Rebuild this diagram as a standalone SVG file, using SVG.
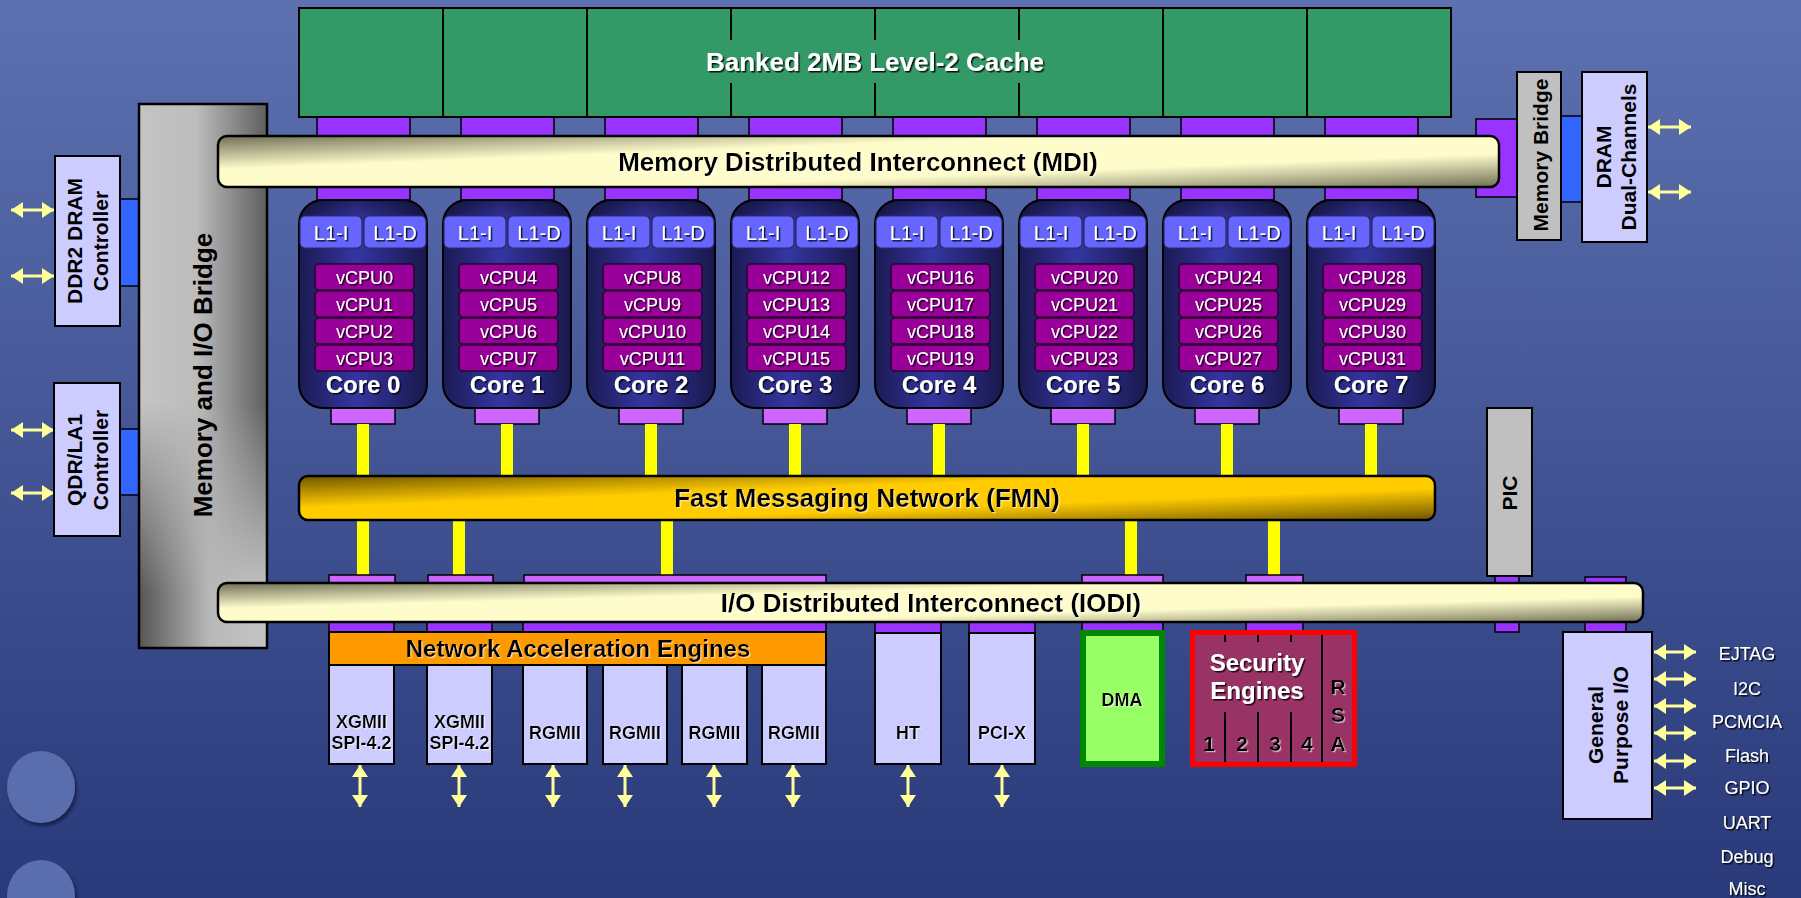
<svg xmlns="http://www.w3.org/2000/svg" width="1801" height="898" viewBox="0 0 1801 898">
  <defs>
    <linearGradient id="bg" x1="0" y1="0" x2="0" y2="1">
      <stop offset="0" stop-color="#5d71b0"/>
      <stop offset="1" stop-color="#29397a"/>
    </linearGradient>
    <!-- diagonal sheen used by the three interconnect bars -->
    <linearGradient id="busCream" x1="0" y1="0" x2="1" y2="1">
      <stop offset="0" stop-color="#6f6f55"/>
      <stop offset="0.33" stop-color="#fffccc"/>
      <stop offset="0.67" stop-color="#fffccc"/>
      <stop offset="1" stop-color="#6f6f55"/>
    </linearGradient>
    <linearGradient id="busGold" x1="0" y1="0" x2="1" y2="1">
      <stop offset="0" stop-color="#6e5400"/>
      <stop offset="0.36" stop-color="#ffcc00"/>
      <stop offset="0.64" stop-color="#ffcc00"/>
      <stop offset="1" stop-color="#6e5400"/>
    </linearGradient>
    <linearGradient id="coreFill" x1="0" y1="0" x2="1" y2="0">
      <stop offset="0" stop-color="#1a1a52"/>
      <stop offset="0.45" stop-color="#3535a2"/>
      <stop offset="1" stop-color="#18184c"/>
    </linearGradient>
    <linearGradient id="coreTop" x1="0" y1="0" x2="0" y2="1">
      <stop offset="0" stop-color="#000" stop-opacity="0.35"/>
      <stop offset="0.1" stop-color="#000" stop-opacity="0"/>
      <stop offset="1" stop-color="#000" stop-opacity="0"/>
    </linearGradient>
    <linearGradient id="grayA" x1="0" y1="0" x2="1" y2="0">
      <stop offset="0" stop-color="#c4c4c4"/>
      <stop offset="0.45" stop-color="#bcbcbc"/>
      <stop offset="1" stop-color="#5e5e5e"/>
    </linearGradient>
    <linearGradient id="grayB" x1="0" y1="0" x2="1" y2="0">
      <stop offset="0" stop-color="#555555"/>
      <stop offset="0.55" stop-color="#b8b8b8"/>
      <stop offset="1" stop-color="#c4c4c4"/>
    </linearGradient>
    <linearGradient id="fadeDown" x1="0" y1="0" x2="0" y2="1">
      <stop offset="0.55" stop-color="#fff" stop-opacity="0"/>
      <stop offset="0.9" stop-color="#fff" stop-opacity="1"/>
    </linearGradient>
    <mask id="lowerHalf" maskContentUnits="objectBoundingBox">
      <rect x="0" y="0" width="1" height="1" fill="url(#fadeDown)"/>
    </mask>
    <filter id="shDark" x="-10%" y="-30%" width="130%" height="180%">
      <feDropShadow dx="1.5" dy="1.5" stdDeviation="0.4" flood-color="#000" flood-opacity="0.85"/>
    </filter>
    <filter id="shLight" x="-10%" y="-30%" width="130%" height="180%">
      <feDropShadow dx="1.2" dy="1.2" stdDeviation="0.4" flood-color="#fff" flood-opacity="0.6"/>
    </filter>
    <filter id="dotShadow" x="-30%" y="-30%" width="160%" height="160%">
      <feDropShadow dx="2" dy="3" stdDeviation="1.5" flood-color="#101a40" flood-opacity="0.8"/>
    </filter>
    <marker id="head" viewBox="0 0 12 16" refX="12" refY="8" markerWidth="12" markerHeight="16" markerUnits="userSpaceOnUse" orient="auto-start-reverse">
      <path d="M0,0 L12,8 L0,16 z" fill="#ffff99"/>
    </marker>
    <style>
      text { font-family: "Liberation Sans", Arial, sans-serif; }
      .box { stroke: #000; stroke-width: 2; }
      .lav { fill: #ccccff; }
      .grey { fill: #c0c0c0; }
      .blue { fill: #3366ff; stroke: #000; stroke-width: 1.5; }
      .tabD { fill: #9933ff; stroke: #000; stroke-width: 1.5; }
      .tabL { fill: #cc66ff; stroke: #000; stroke-width: 1.5; }
      .wire { stroke: #ffff00; stroke-width: 12; }
      .arrow { stroke: #ffff99; stroke-width: 3; marker-start: url(#head); marker-end: url(#head); }
      .bus { stroke: #000; stroke-width: 2.5; }
      .busT { font-size: 26px; font-weight: bold; fill: #000; text-anchor: middle; filter: url(#shLight); }
      .lbl { font-size: 21px; font-weight: bold; fill: #000; text-anchor: middle; }
      .lblBig { font-size: 26px; font-weight: bold; fill: #000; text-anchor: middle; }
      .io { font-size: 18px; font-weight: bold; fill: #000; text-anchor: middle; filter: url(#shLight); }
      .nae { font-size: 24px; font-weight: bold; fill: #000; text-anchor: middle; filter: url(#shLight); }
      .core { fill: url(#coreFill); stroke: #000; stroke-width: 2; }
      .l1 { fill: #6666ff; stroke: #2a2a70; stroke-width: 1.2; }
      .l1T { font-size: 20px; fill: #fff; text-anchor: middle; filter: url(#shDark); }
      .vcpu { fill: #990099; stroke: #2a0030; stroke-width: 1.5; }
      .vcpuT { font-size: 18px; fill: #fff; text-anchor: middle; filter: url(#shDark); }
      .coreT { font-size: 24px; font-weight: bold; fill: #fff; text-anchor: middle; filter: url(#shDark); }
      .cacheT { font-size: 26px; font-weight: bold; fill: #fff; text-anchor: middle; filter: url(#shDark); }
      .sig { font-size: 18px; fill: #fff; text-anchor: middle; filter: url(#shDark); }
      .secT { font-size: 24px; font-weight: bold; fill: #fff; text-anchor: middle; filter: url(#shDark); }
      .secN { font-size: 21px; font-weight: bold; fill: #000; text-anchor: middle; filter: url(#shLight); }
      .div { stroke: #000; stroke-width: 2; }
    </style>
  </defs>

  <!-- backdrop -->
  <rect x="0" y="0" width="1801" height="898" fill="url(#bg)"/>
  <ellipse cx="41" cy="787" rx="34" ry="36" fill="#5a6dad" filter="url(#dotShadow)"/>
  <ellipse cx="41" cy="896" rx="34" ry="36" fill="#5a6dad" filter="url(#dotShadow)"/>

  <!-- connectors: bus taps, message-network links, external pins -->
  <g id="connectors">
    <!-- MDI taps above and below the bus, one pair per core -->
    <rect class="tabD" x="317" y="117" width="93" height="19"/>
    <rect class="tabD" x="461" y="117" width="93" height="19"/>
    <rect class="tabD" x="605" y="117" width="93" height="19"/>
    <rect class="tabD" x="749" y="117" width="93" height="19"/>
    <rect class="tabD" x="893" y="117" width="93" height="19"/>
    <rect class="tabD" x="1037" y="117" width="93" height="19"/>
    <rect class="tabD" x="1181" y="117" width="93" height="19"/>
    <rect class="tabD" x="1325" y="117" width="93" height="19"/>
    <rect class="tabD" x="317" y="186" width="93" height="14"/>
    <rect class="tabD" x="461" y="186" width="93" height="14"/>
    <rect class="tabD" x="605" y="186" width="93" height="14"/>
    <rect class="tabD" x="749" y="186" width="93" height="14"/>
    <rect class="tabD" x="893" y="186" width="93" height="14"/>
    <rect class="tabD" x="1037" y="186" width="93" height="14"/>
    <rect class="tabD" x="1181" y="186" width="93" height="14"/>
    <rect class="tabD" x="1325" y="186" width="93" height="14"/>
    <rect class="tabD" x="1476" y="119" width="41" height="78"/>

    <!-- controller links to the bridges -->
    <rect class="blue" x="120" y="199" width="19" height="87"/>
    <rect class="blue" x="120" y="429" width="19" height="66"/>
    <rect class="blue" x="1561" y="116" width="21" height="86"/>

    <!-- core ports and FMN links -->
    <rect class="tabL" x="331" y="408" width="64" height="16"/>
    <rect class="tabL" x="475" y="408" width="64" height="16"/>
    <rect class="tabL" x="619" y="408" width="64" height="16"/>
    <rect class="tabL" x="763" y="408" width="64" height="16"/>
    <rect class="tabL" x="907" y="408" width="64" height="16"/>
    <rect class="tabL" x="1051" y="408" width="64" height="16"/>
    <rect class="tabL" x="1195" y="408" width="64" height="16"/>
    <rect class="tabL" x="1339" y="408" width="64" height="16"/>
    <line class="wire" x1="363" y1="424" x2="363" y2="476"/>
    <line class="wire" x1="507" y1="424" x2="507" y2="476"/>
    <line class="wire" x1="651" y1="424" x2="651" y2="476"/>
    <line class="wire" x1="795" y1="424" x2="795" y2="476"/>
    <line class="wire" x1="939" y1="424" x2="939" y2="476"/>
    <line class="wire" x1="1083" y1="424" x2="1083" y2="476"/>
    <line class="wire" x1="1227" y1="424" x2="1227" y2="476"/>
    <line class="wire" x1="1371" y1="424" x2="1371" y2="476"/>
    <line class="wire" x1="363" y1="520" x2="363" y2="575"/>
    <line class="wire" x1="459" y1="520" x2="459" y2="575"/>
    <line class="wire" x1="667" y1="520" x2="667" y2="575"/>
    <line class="wire" x1="1131" y1="520" x2="1131" y2="575"/>
    <line class="wire" x1="1274" y1="520" x2="1274" y2="575"/>

    <!-- IODI taps -->
    <rect class="tabL" x="329" y="575" width="66" height="9"/>
    <rect class="tabL" x="428" y="575" width="65" height="9"/>
    <rect class="tabL" x="524" y="575" width="302" height="9"/>
    <rect class="tabL" x="1082" y="575" width="81" height="9"/>
    <rect class="tabL" x="1246" y="575" width="57" height="9"/>
    <rect class="tabD" x="1495" y="576" width="24" height="8"/>
    <rect class="tabD" x="1585" y="577" width="41" height="7"/>
    <rect class="tabD" x="329" y="621" width="65" height="11"/>
    <rect class="tabD" x="427" y="621" width="65" height="11"/>
    <rect class="tabD" x="523" y="621" width="303" height="11"/>
    <rect class="tabD" x="875" y="621" width="66" height="12"/>
    <rect class="tabD" x="969" y="621" width="66" height="12"/>
    <rect class="tabD" x="1082" y="621" width="81" height="10"/>
    <rect class="tabD" x="1246" y="621" width="57" height="10"/>
    <rect class="tabD" x="1495" y="621" width="24" height="11"/>
    <rect class="tabD" x="1585" y="621" width="41" height="11"/>

    <!-- external pins -->
    <line class="arrow" x1="11" y1="210" x2="54" y2="210"/>
    <line class="arrow" x1="11" y1="276" x2="54" y2="276"/>
    <line class="arrow" x1="11" y1="430" x2="54" y2="430"/>
    <line class="arrow" x1="11" y1="493" x2="54" y2="493"/>
    <line class="arrow" x1="1648" y1="127" x2="1691" y2="127"/>
    <line class="arrow" x1="1648" y1="192" x2="1691" y2="192"/>
    <line class="arrow" x1="1654" y1="652" x2="1696" y2="652"/>
    <line class="arrow" x1="1654" y1="679" x2="1696" y2="679"/>
    <line class="arrow" x1="1654" y1="706" x2="1696" y2="706"/>
    <line class="arrow" x1="1654" y1="733" x2="1696" y2="733"/>
    <line class="arrow" x1="1654" y1="761" x2="1696" y2="761"/>
    <line class="arrow" x1="1654" y1="788" x2="1696" y2="788"/>
    <line class="arrow" x1="360" y1="765" x2="360" y2="807"/>
    <line class="arrow" x1="459" y1="765" x2="459" y2="807"/>
    <line class="arrow" x1="553" y1="765" x2="553" y2="807"/>
    <line class="arrow" x1="625" y1="765" x2="625" y2="807"/>
    <line class="arrow" x1="714" y1="765" x2="714" y2="807"/>
    <line class="arrow" x1="793" y1="765" x2="793" y2="807"/>
    <line class="arrow" x1="908" y1="765" x2="908" y2="807"/>
    <line class="arrow" x1="1002" y1="765" x2="1002" y2="807"/>
  </g>

  <!-- shared L2 cache, eight banks -->
  <g id="l2-cache">
    <rect class="box" x="299" y="8" width="144" height="109" fill="#339966"/>
    <rect class="box" x="443" y="8" width="144" height="109" fill="#339966"/>
    <rect class="box" x="587" y="8" width="144" height="109" fill="#339966"/>
    <rect class="box" x="731" y="8" width="144" height="109" fill="#339966"/>
    <rect class="box" x="875" y="8" width="144" height="109" fill="#339966"/>
    <rect class="box" x="1019" y="8" width="144" height="109" fill="#339966"/>
    <rect class="box" x="1163" y="8" width="144" height="109" fill="#339966"/>
    <rect class="box" x="1307" y="8" width="144" height="109" fill="#339966"/>
    <rect x="703" y="40" width="344" height="43" fill="#339966"/>
    <text class="cacheT" x="875" y="71">Banked 2MB Level-2 Cache</text>
  </g>

  <g id="mem-io-bridge">
    <rect x="139" y="104" width="128" height="544" fill="url(#grayA)"/>
    <rect x="139" y="104" width="128" height="544" fill="url(#grayB)" mask="url(#lowerHalf)"/>
    <rect x="139" y="104" width="128" height="544" fill="none" stroke="#000" stroke-width="2.5"/>
    <text class="lblBig" transform="translate(0,375) rotate(-90)" x="0" y="212">Memory and I/O Bridge</text>
  </g>

  <g id="ddr2-controller">
    <rect class="box lav" x="55" y="156" width="65" height="170"/>
    <text class="lbl" transform="translate(0,241) rotate(-90)"><tspan x="0" y="82">DDR2 DRAM</tspan><tspan x="0" y="108">Controller</tspan></text>
  </g>

  <g id="qdr-controller">
    <rect class="box lav" x="54" y="383" width="66" height="153"/>
    <text class="lbl" transform="translate(0,460) rotate(-90)"><tspan x="0" y="82">QDR/LA1</tspan><tspan x="0" y="108">Controller</tspan></text>
  </g>

  <g id="mdi">
    <rect class="bus" x="218" y="136" width="1281" height="51" rx="9" fill="url(#busCream)"/>
    <text class="busT" x="858" y="171">Memory Distributed Interconnect (MDI)</text>
  </g>

  <g id="memory-bridge">
    <rect class="box grey" x="1517" y="72" width="44" height="168"/>
    <text class="lbl" transform="translate(0,155) rotate(-90)" x="0" y="1548">Memory Bridge</text>
  </g>

  <g id="dram-channels">
    <rect class="box lav" x="1582" y="72" width="65" height="170"/>
    <text class="lbl" transform="translate(0,157) rotate(-90)"><tspan x="0" y="1611">DRAM</tspan><tspan x="0" y="1636">Dual-Channels</tspan></text>
  </g>

  <!-- eight cores, four threads each -->
  <g id="core0" transform="translate(299,0)">
    <rect class="core" x="0" y="200" width="128" height="208" rx="24"/>
    <rect x="0" y="200" width="128" height="208" rx="24" fill="url(#coreTop)"/>
    <rect class="l1" x="1" y="216" width="62" height="32" rx="5"/><text class="l1T" x="32" y="240">L1-I</text>
    <rect class="l1" x="65" y="216" width="62" height="32" rx="5"/><text class="l1T" x="96" y="240">L1-D</text>
    <rect class="vcpu" x="16" y="264" width="99" height="26" rx="4"/><text class="vcpuT" x="65.5" y="284">vCPU0</text>
    <rect class="vcpu" x="16" y="291" width="99" height="26" rx="4"/><text class="vcpuT" x="65.5" y="311">vCPU1</text>
    <rect class="vcpu" x="16" y="318" width="99" height="26" rx="4"/><text class="vcpuT" x="65.5" y="338">vCPU2</text>
    <rect class="vcpu" x="16" y="345" width="99" height="26" rx="4"/><text class="vcpuT" x="65.5" y="365">vCPU3</text>
    <text class="coreT" x="64" y="393">Core 0</text>
  </g>
  <g id="core1" transform="translate(443,0)">
    <rect class="core" x="0" y="200" width="128" height="208" rx="24"/>
    <rect x="0" y="200" width="128" height="208" rx="24" fill="url(#coreTop)"/>
    <rect class="l1" x="1" y="216" width="62" height="32" rx="5"/><text class="l1T" x="32" y="240">L1-I</text>
    <rect class="l1" x="65" y="216" width="62" height="32" rx="5"/><text class="l1T" x="96" y="240">L1-D</text>
    <rect class="vcpu" x="16" y="264" width="99" height="26" rx="4"/><text class="vcpuT" x="65.5" y="284">vCPU4</text>
    <rect class="vcpu" x="16" y="291" width="99" height="26" rx="4"/><text class="vcpuT" x="65.5" y="311">vCPU5</text>
    <rect class="vcpu" x="16" y="318" width="99" height="26" rx="4"/><text class="vcpuT" x="65.5" y="338">vCPU6</text>
    <rect class="vcpu" x="16" y="345" width="99" height="26" rx="4"/><text class="vcpuT" x="65.5" y="365">vCPU7</text>
    <text class="coreT" x="64" y="393">Core 1</text>
  </g>
  <g id="core2" transform="translate(587,0)">
    <rect class="core" x="0" y="200" width="128" height="208" rx="24"/>
    <rect x="0" y="200" width="128" height="208" rx="24" fill="url(#coreTop)"/>
    <rect class="l1" x="1" y="216" width="62" height="32" rx="5"/><text class="l1T" x="32" y="240">L1-I</text>
    <rect class="l1" x="65" y="216" width="62" height="32" rx="5"/><text class="l1T" x="96" y="240">L1-D</text>
    <rect class="vcpu" x="16" y="264" width="99" height="26" rx="4"/><text class="vcpuT" x="65.5" y="284">vCPU8</text>
    <rect class="vcpu" x="16" y="291" width="99" height="26" rx="4"/><text class="vcpuT" x="65.5" y="311">vCPU9</text>
    <rect class="vcpu" x="16" y="318" width="99" height="26" rx="4"/><text class="vcpuT" x="65.5" y="338">vCPU10</text>
    <rect class="vcpu" x="16" y="345" width="99" height="26" rx="4"/><text class="vcpuT" x="65.5" y="365">vCPU11</text>
    <text class="coreT" x="64" y="393">Core 2</text>
  </g>
  <g id="core3" transform="translate(731,0)">
    <rect class="core" x="0" y="200" width="128" height="208" rx="24"/>
    <rect x="0" y="200" width="128" height="208" rx="24" fill="url(#coreTop)"/>
    <rect class="l1" x="1" y="216" width="62" height="32" rx="5"/><text class="l1T" x="32" y="240">L1-I</text>
    <rect class="l1" x="65" y="216" width="62" height="32" rx="5"/><text class="l1T" x="96" y="240">L1-D</text>
    <rect class="vcpu" x="16" y="264" width="99" height="26" rx="4"/><text class="vcpuT" x="65.5" y="284">vCPU12</text>
    <rect class="vcpu" x="16" y="291" width="99" height="26" rx="4"/><text class="vcpuT" x="65.5" y="311">vCPU13</text>
    <rect class="vcpu" x="16" y="318" width="99" height="26" rx="4"/><text class="vcpuT" x="65.5" y="338">vCPU14</text>
    <rect class="vcpu" x="16" y="345" width="99" height="26" rx="4"/><text class="vcpuT" x="65.5" y="365">vCPU15</text>
    <text class="coreT" x="64" y="393">Core 3</text>
  </g>
  <g id="core4" transform="translate(875,0)">
    <rect class="core" x="0" y="200" width="128" height="208" rx="24"/>
    <rect x="0" y="200" width="128" height="208" rx="24" fill="url(#coreTop)"/>
    <rect class="l1" x="1" y="216" width="62" height="32" rx="5"/><text class="l1T" x="32" y="240">L1-I</text>
    <rect class="l1" x="65" y="216" width="62" height="32" rx="5"/><text class="l1T" x="96" y="240">L1-D</text>
    <rect class="vcpu" x="16" y="264" width="99" height="26" rx="4"/><text class="vcpuT" x="65.5" y="284">vCPU16</text>
    <rect class="vcpu" x="16" y="291" width="99" height="26" rx="4"/><text class="vcpuT" x="65.5" y="311">vCPU17</text>
    <rect class="vcpu" x="16" y="318" width="99" height="26" rx="4"/><text class="vcpuT" x="65.5" y="338">vCPU18</text>
    <rect class="vcpu" x="16" y="345" width="99" height="26" rx="4"/><text class="vcpuT" x="65.5" y="365">vCPU19</text>
    <text class="coreT" x="64" y="393">Core 4</text>
  </g>
  <g id="core5" transform="translate(1019,0)">
    <rect class="core" x="0" y="200" width="128" height="208" rx="24"/>
    <rect x="0" y="200" width="128" height="208" rx="24" fill="url(#coreTop)"/>
    <rect class="l1" x="1" y="216" width="62" height="32" rx="5"/><text class="l1T" x="32" y="240">L1-I</text>
    <rect class="l1" x="65" y="216" width="62" height="32" rx="5"/><text class="l1T" x="96" y="240">L1-D</text>
    <rect class="vcpu" x="16" y="264" width="99" height="26" rx="4"/><text class="vcpuT" x="65.5" y="284">vCPU20</text>
    <rect class="vcpu" x="16" y="291" width="99" height="26" rx="4"/><text class="vcpuT" x="65.5" y="311">vCPU21</text>
    <rect class="vcpu" x="16" y="318" width="99" height="26" rx="4"/><text class="vcpuT" x="65.5" y="338">vCPU22</text>
    <rect class="vcpu" x="16" y="345" width="99" height="26" rx="4"/><text class="vcpuT" x="65.5" y="365">vCPU23</text>
    <text class="coreT" x="64" y="393">Core 5</text>
  </g>
  <g id="core6" transform="translate(1163,0)">
    <rect class="core" x="0" y="200" width="128" height="208" rx="24"/>
    <rect x="0" y="200" width="128" height="208" rx="24" fill="url(#coreTop)"/>
    <rect class="l1" x="1" y="216" width="62" height="32" rx="5"/><text class="l1T" x="32" y="240">L1-I</text>
    <rect class="l1" x="65" y="216" width="62" height="32" rx="5"/><text class="l1T" x="96" y="240">L1-D</text>
    <rect class="vcpu" x="16" y="264" width="99" height="26" rx="4"/><text class="vcpuT" x="65.5" y="284">vCPU24</text>
    <rect class="vcpu" x="16" y="291" width="99" height="26" rx="4"/><text class="vcpuT" x="65.5" y="311">vCPU25</text>
    <rect class="vcpu" x="16" y="318" width="99" height="26" rx="4"/><text class="vcpuT" x="65.5" y="338">vCPU26</text>
    <rect class="vcpu" x="16" y="345" width="99" height="26" rx="4"/><text class="vcpuT" x="65.5" y="365">vCPU27</text>
    <text class="coreT" x="64" y="393">Core 6</text>
  </g>
  <g id="core7" transform="translate(1307,0)">
    <rect class="core" x="0" y="200" width="128" height="208" rx="24"/>
    <rect x="0" y="200" width="128" height="208" rx="24" fill="url(#coreTop)"/>
    <rect class="l1" x="1" y="216" width="62" height="32" rx="5"/><text class="l1T" x="32" y="240">L1-I</text>
    <rect class="l1" x="65" y="216" width="62" height="32" rx="5"/><text class="l1T" x="96" y="240">L1-D</text>
    <rect class="vcpu" x="16" y="264" width="99" height="26" rx="4"/><text class="vcpuT" x="65.5" y="284">vCPU28</text>
    <rect class="vcpu" x="16" y="291" width="99" height="26" rx="4"/><text class="vcpuT" x="65.5" y="311">vCPU29</text>
    <rect class="vcpu" x="16" y="318" width="99" height="26" rx="4"/><text class="vcpuT" x="65.5" y="338">vCPU30</text>
    <rect class="vcpu" x="16" y="345" width="99" height="26" rx="4"/><text class="vcpuT" x="65.5" y="365">vCPU31</text>
    <text class="coreT" x="64" y="393">Core 7</text>
  </g>

  <g id="fmn">
    <rect class="bus" x="299" y="476" width="1136" height="44" rx="9" fill="url(#busGold)"/>
    <text class="busT" x="867" y="507">Fast Messaging Network (FMN)</text>
  </g>

  <g id="pic">
    <rect class="box grey" x="1487" y="408" width="45" height="168"/>
    <text class="lbl" transform="translate(0,493) rotate(-90)" x="0" y="1517">PIC</text>
  </g>

  <g id="iodi">
    <rect class="bus" x="218" y="583" width="1425" height="39" rx="9" fill="url(#busCream)"/>
    <text class="busT" x="931" y="612">I/O Distributed Interconnect (IODI)</text>
  </g>

  <g id="network-engines">
    <rect class="box" x="329" y="632" width="497" height="33" fill="#ff9900"/>
    <text class="nae" x="578" y="657">Network Acceleration Engines</text>
  </g>

  <g id="xgmii0">
    <rect class="box lav" x="329" y="665" width="65" height="99"/>
    <text class="io"><tspan x="361.5" y="728">XGMII</tspan><tspan x="361.5" y="749">SPI-4.2</tspan></text>
  </g>
  <g id="xgmii1">
    <rect class="box lav" x="427" y="665" width="65" height="99"/>
    <text class="io"><tspan x="459.5" y="728">XGMII</tspan><tspan x="459.5" y="749">SPI-4.2</tspan></text>
  </g>
  <g id="rgmii0">
    <rect class="box lav" x="523" y="665" width="64" height="99"/>
    <text class="io" x="555" y="739">RGMII</text>
  </g>
  <g id="rgmii1">
    <rect class="box lav" x="603" y="665" width="64" height="99"/>
    <text class="io" x="635" y="739">RGMII</text>
  </g>
  <g id="rgmii2">
    <rect class="box lav" x="682" y="665" width="65" height="99"/>
    <text class="io" x="714.5" y="739">RGMII</text>
  </g>
  <g id="rgmii3">
    <rect class="box lav" x="762" y="665" width="64" height="99"/>
    <text class="io" x="794" y="739">RGMII</text>
  </g>

  <g id="ht">
    <rect class="box lav" x="875" y="633" width="66" height="131"/>
    <text class="io" x="908" y="739">HT</text>
  </g>
  <g id="pcix">
    <rect class="box lav" x="969" y="633" width="66" height="131"/>
    <text class="io" x="1002" y="739">PCI-X</text>
  </g>

  <g id="dma">
    <rect x="1083" y="633" width="79" height="131" fill="#99ff66" stroke="#008800" stroke-width="6"/>
    <text class="io" x="1122" y="706">DMA</text>
  </g>

  <g id="security-engines">
    <rect x="1192.5" y="632.5" width="162" height="132" fill="#993366" stroke="#ff0000" stroke-width="5"/>
    <line class="div" x1="1225" y1="635" x2="1225" y2="642"/>
    <line class="div" x1="1258" y1="635" x2="1258" y2="642"/>
    <line class="div" x1="1291" y1="635" x2="1291" y2="642"/>
    <line class="div" x1="1225" y1="712" x2="1225" y2="762"/>
    <line class="div" x1="1258" y1="712" x2="1258" y2="762"/>
    <line class="div" x1="1291" y1="712" x2="1291" y2="762"/>
    <line class="div" x1="1322" y1="635" x2="1322" y2="762"/>
    <text class="secT"><tspan x="1257" y="671">Security</tspan><tspan x="1257" y="699">Engines</tspan></text>
    <text class="secN" x="1209" y="751">1</text>
    <text class="secN" x="1242" y="751">2</text>
    <text class="secN" x="1275" y="751">3</text>
    <text class="secN" x="1307" y="751">4</text>
    <text class="secN"><tspan x="1338" y="694">R</tspan><tspan x="1338" y="722">S</tspan><tspan x="1338" y="751">A</tspan></text>
  </g>

  <g id="gpio">
    <rect class="box lav" x="1563" y="632" width="89" height="187"/>
    <text class="lbl" transform="translate(0,725) rotate(-90)"><tspan x="0" y="1603">General</tspan><tspan x="0" y="1628">Purpose I/O</tspan></text>
    <text class="sig" x="1747" y="660">EJTAG</text>
    <text class="sig" x="1747" y="695">I2C</text>
    <text class="sig" x="1747" y="728">PCMCIA</text>
    <text class="sig" x="1747" y="762">Flash</text>
    <text class="sig" x="1747" y="794">GPIO</text>
    <text class="sig" x="1747" y="829">UART</text>
    <text class="sig" x="1747" y="863">Debug</text>
    <text class="sig" x="1747" y="895">Misc</text>
  </g>
</svg>
